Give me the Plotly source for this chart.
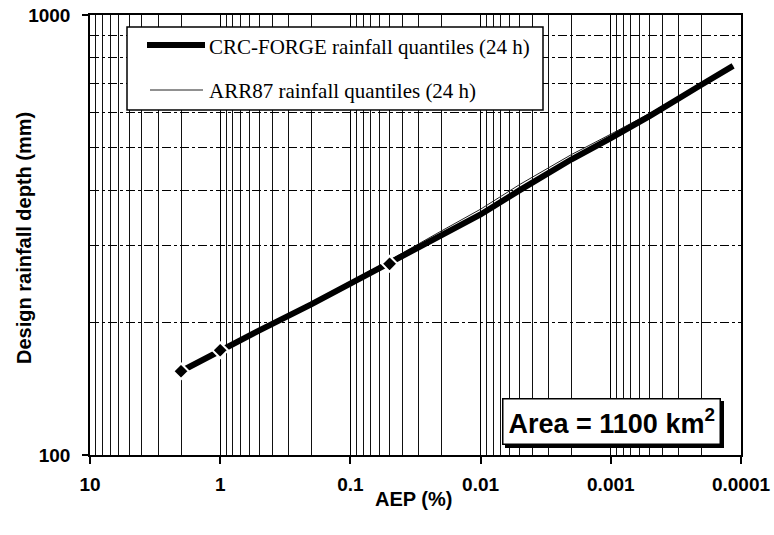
import plotly.graph_objects as go

# ---- data ----
AEP = [2, 1, 0.5, 0.2, 0.1, 0.05, 0.02, 0.01, 0.005, 0.002, 0.001, 0.0005, 0.0002, 0.000115]
CRC_FORGE = [155, 173, 192, 220, 245, 272, 316, 352, 400, 470, 525, 590, 695, 766]
ARR87 = [155, 173, 193, 222, 248, 277, 323, 362, 412, 482, 536, 598, 700, 766]
MARK_AEP = [2, 1, 0.05]
MARK_DEPTH = [155, 173, 272]

X_TICKS = [10, 1, 0.1, 0.01, 0.001, 0.0001]
X_TICK_TEXT = ["10", "1", "0.1", "0.01", "0.001", "0.0001"]
Y_TICKS = [100, 1000]
Y_TICK_TEXT = ["100", "1000"]
X_GRID = [m * 10.0 ** e for e in range(-4, 1) for m in range(1, 10)] + [10]
Y_GRID = [200, 300, 400, 500, 600, 700, 800, 900]

SANS = "Liberation Sans, Arial, sans-serif"
SERIF = "Liberation Serif, Times New Roman, serif"

fig = go.Figure()
fig.add_trace(go.Scatter(x=AEP, y=ARR87, mode="lines", name="ARR87 rainfall quantiles (24 h)",
                         line=dict(color="#222222", width=1), showlegend=False))
fig.add_trace(go.Scatter(x=AEP, y=CRC_FORGE, mode="lines", name="CRC-FORGE rainfall quantiles (24 h)",
                         line=dict(color="black", width=6), showlegend=False))
fig.add_trace(go.Scatter(x=MARK_AEP, y=MARK_DEPTH, mode="markers", showlegend=False,
                         marker=dict(symbol="diamond", size=12, color="black",
                                     line=dict(color="white", width=2))))

W, H = 774, 535
L, R, T, B = 90, 33, 15, 80
pw, ph = W - L - R, H - T - B


def px(xp):
    return (xp - L) / pw


def py(yp):
    return (H - B - yp) / ph


fig.update_layout(
    width=W, height=H,
    margin=dict(l=L, r=R, t=T, b=B, autoexpand=False),
    paper_bgcolor="white", plot_bgcolor="white",
    showlegend=False,
    xaxis=dict(
        type="log", range=[1, -4], tickmode="array", tickvals=X_TICKS, ticktext=X_TICK_TEXT,
        automargin=False,
        tickfont=dict(family=SANS, size=19, color="black", weight="bold"),
        ticks="outside", ticklen=7, tickwidth=1.5, tickcolor="black", ticklabelstandoff=4,
        showline=True, linecolor="black", linewidth=1.5, mirror=True,
        showgrid=True, gridcolor="black", gridwidth=1.3,
        minor=dict(tickmode="array", tickvals=X_GRID, showgrid=True, gridcolor="#111111",
                   gridwidth=1.3, ticks=""),
        zeroline=False,
    ),
    yaxis=dict(
        type="log", range=[2, 3], tickmode="array", tickvals=Y_TICKS, ticktext=Y_TICK_TEXT,
        automargin=False,
        tickfont=dict(family=SANS, size=19, color="black", weight="bold"),
        ticks="outside", ticklen=6, tickwidth=1.5, tickcolor="black", ticklabelstandoff=8,
        showline=True, linecolor="black", linewidth=1.5, mirror=True,
        showgrid=False,
        minor=dict(tickmode="array", tickvals=Y_GRID, showgrid=True, gridcolor="black",
                   gridwidth=1, griddash="dashdot", ticks=""),
        zeroline=False,
    ),
)

# axis titles
fig.add_annotation(text="AEP (%)", xref="paper", yref="paper", x=px(413), y=py(499),
                   xanchor="center", yanchor="middle", showarrow=False,
                   font=dict(family=SANS, size=20, color="black", weight="bold"))
fig.add_annotation(text="Design rainfall depth (mm)", xref="paper", yref="paper", x=px(24), y=py(238),
                   xanchor="center", yanchor="middle", textangle=-90, showarrow=False,
                   font=dict(family=SANS, size=20, color="black", weight="bold"))

# legend box (drawn manually)
fig.add_shape(type="rect", xref="paper", yref="paper", x0=px(127), x1=px(543), y0=py(110), y1=py(27),
              fillcolor="white", line=dict(color="black", width=1.5), layer="above")
fig.add_shape(type="line", xref="paper", yref="paper", x0=px(147), x1=px(205), y0=py(45), y1=py(45),
              line=dict(color="black", width=6), layer="above")
fig.add_shape(type="line", xref="paper", yref="paper", x0=px(150), x1=px(203), y0=py(90), y1=py(90),
              line=dict(color="#222222", width=1), layer="above")
fig.add_annotation(text="CRC-FORGE rainfall quantiles (24 h)", xref="paper", yref="paper",
                   x=px(207), y=py(47), xanchor="left", yanchor="middle", showarrow=False,
                   font=dict(family=SERIF, size=21, color="black"))
fig.add_annotation(text="ARR87 rainfall quantiles (24 h)", xref="paper", yref="paper",
                   x=px(207), y=py(91), xanchor="left", yanchor="middle", showarrow=False,
                   font=dict(family=SERIF, size=21, color="black"))

# area label with shadow
area_text = "Area = 1100 km<sup>2</sup>"
for dx, dy, bg in [(3, -3, "black"), (0, 0, "white")]:
    fig.add_annotation(text=area_text, xref="paper", yref="paper", x=px(611), y=py(421),
                       xanchor="center", yanchor="middle",
                       xshift=dx, yshift=dy, showarrow=False, bgcolor=bg,
                       bordercolor="black", borderwidth=1.5, borderpad=5,
                       font=dict(family=SANS, size=27, color="black", weight="bold"))

fig.write_html("out.html")
